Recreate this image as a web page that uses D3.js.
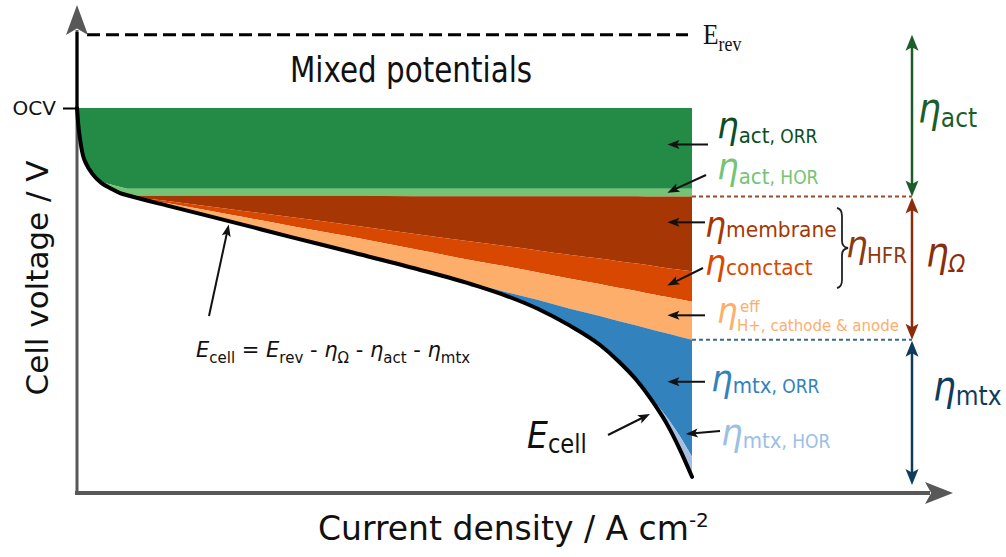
<!DOCTYPE html>
<html>
<head>
<meta charset="utf-8">
<script src="https://cdn.jsdelivr.net/npm/d3@7"></script>
<style>
  html, body { margin: 0; padding: 0; background: #fff; }
  svg { display: block; font-family: "DejaVu Sans", Verdana, sans-serif; }
  text { white-space: pre; }
</style>
</head>
<body>
<svg id="chart" width="1006" height="557"></svg>
<script>
// Polarization curve schematic: losses stacked down from OCV
// current density in arbitrary units (0..1), losses in V

const currentDensity = [0, 0.002, 0.005, 0.01, 0.015, 0.025, 0.04, 0.055, 0.07, 0.085,
    0.15, 0.25, 0.35, 0.45, 0.55, 0.65, 0.7, 0.75, 0.8, 0.85, 0.88, 0.91, 0.94, 0.96, 0.98, 1.0];

const etaActORR = [0, 0.042, 0.081, 0.125, 0.145, 0.171, 0.190, 0.199, 0.205, 0.210,
    0.210, 0.210, 0.210, 0.210, 0.210, 0.210, 0.210, 0.210, 0.210, 0.210, 0.210, 0.210, 0.210, 0.210, 0.210, 0.210];
const etaActHOR = [0, 0, 0, 0, 0, 0, 0.005, 0.010, 0.016, 0.018,
    0.018, 0.018, 0.018, 0.018, 0.019, 0.019, 0.019, 0.019, 0.019, 0.019, 0.019, 0.019, 0.020, 0.020, 0.020, 0.020];
const etaMembrane = [0, 0, 0, 0, 0, 0, 0, 0, 0, 0,
    0.014, 0.035, 0.056, 0.077, 0.098, 0.120, 0.130, 0.141, 0.152, 0.162, 0.169, 0.175, 0.181, 0.186, 0.190, 0.194];
const etaContact = [0, 0, 0, 0, 0, 0, 0, 0, 0, 0,
    0.006, 0.014, 0.023, 0.031, 0.040, 0.049, 0.053, 0.057, 0.062, 0.066, 0.069, 0.071, 0.074, 0.075, 0.077, 0.079];
const etaProton = [0, 0, 0, 0, 0, 0, 0, 0, 0, 0,
    0.007, 0.018, 0.029, 0.040, 0.050, 0.061, 0.067, 0.072, 0.078, 0.083, 0.086, 0.090, 0.093, 0.095, 0.097, 0.099];
const etaMtxORR = [0, 0, 0, 0, 0, 0, 0, 0, 0, 0, 0, 0, 0, 0, 0,
    0.003, 0.010, 0.023, 0.043, 0.075, 0.104, 0.142, 0.186, 0.219, 0.258, 0.304];
const etaMtxHOR = [0, 0, 0, 0, 0, 0, 0, 0, 0, 0, 0, 0, 0, 0, 0, 0, 0, 0, 0, 0, 0, 0,
    0.008, 0.018, 0.034, 0.052];

const OCV = 1.0;
const E_REV = 1.19;

const lossKeys = ["actORR", "actHOR", "membrane", "contact", "proton", "mtxORR", "mtxHOR"];
const lossColors = {
    actORR: "#238b45", actHOR: "#74c476",
    membrane: "#a63603", contact: "#d94801", proton: "#fdae6b",
    mtxORR: "#3182bd", mtxHOR: "#a6bfe0"
};

const svg = d3.select("#chart");

// scales
const x = d3.scaleLinear().domain([0, 1]).range([77, 692]);
const y = d3.scaleLinear().domain([0, 1]).range([493, 108]);

// stack the losses
const rows = currentDensity.map((c, k) => ({
    i: c,
    actORR: etaActORR[k], actHOR: etaActHOR[k],
    membrane: etaMembrane[k], contact: etaContact[k], proton: etaProton[k],
    mtxORR: etaMtxORR[k], mtxHOR: etaMtxHOR[k]
}));
const series = d3.stack().keys(lossKeys)(rows);

const area = d3.area()
    .x(d => x(d.data.i))
    .y0(d => y(OCV - d[0]))
    .y1(d => y(OCV - d[1]))
    .curve(d3.curveMonotoneX);

svg.append("g")
    .selectAll("path")
    .data(series)
    .join("path")
    .attr("fill", d => lossColors[d.key])
    .attr("d", area);

// E_rev dashed line
svg.append("line")
    .attr("x1", x(0) + 10).attr("x2", x(1) - 4)
    .attr("y1", y(E_REV)).attr("y2", y(E_REV))
    .attr("stroke", "#000").attr("stroke-width", 3)
    .attr("stroke-dasharray", "13 6");

// arrow helper
function arrowHead(g, x1, y1, x2, y2, color, len, wid) {
    const a = Math.atan2(y2 - y1, x2 - x1);
    const c = Math.cos(a), s = Math.sin(a);
    const bx = x2 - len * c, by = y2 - len * s;
    const nx = x2 - 0.78 * len * c, ny = y2 - 0.78 * len * s;
    const p = d3.path();
    p.moveTo(x2, y2);
    p.lineTo(bx - wid / 2 * s, by + wid / 2 * c);
    p.lineTo(nx, ny);
    p.lineTo(bx + wid / 2 * s, by - wid / 2 * c);
    p.closePath();
    g.append("path").attr("d", p.toString()).attr("fill", color);
}

function arrow(g, x1, y1, x2, y2, color, sw, len, wid, both) {
    const a = Math.atan2(y2 - y1, x2 - x1);
    const c = Math.cos(a), s = Math.sin(a);
    const sx = both ? x1 + len * 0.7 * c : x1, sy = both ? y1 + len * 0.7 * s : y1;
    g.append("line")
        .attr("x1", sx).attr("y1", sy)
        .attr("x2", x2 - len * 0.7 * c).attr("y2", y2 - len * 0.7 * s)
        .attr("stroke", color).attr("stroke-width", sw);
    arrowHead(g, x1, y1, x2, y2, color, len, wid);
    if (both) arrowHead(g, x2, y2, x1, y1, color, len, wid);
}

// axes
const axisColor = "#585858";
const axes = svg.append("g");
axes.append("line")
    .attr("x1", x(0)).attr("x2", x(0))
    .attr("y1", y(0) + 2).attr("y2", 30)
    .attr("stroke", axisColor).attr("stroke-width", 3);
axes.append("line")
    .attr("x1", x(0)).attr("x2", x(0))
    .attr("y1", 32).attr("y2", y(OCV))
    .attr("stroke", "#000").attr("stroke-width", 3);
arrowHead(axes, x(0), 40, x(0), 5, axisColor, 30, 22);
axes.append("line")
    .attr("x1", x(0) - 2).attr("x2", 930)
    .attr("y1", y(0)).attr("y2", y(0))
    .attr("stroke", axisColor).attr("stroke-width", 4);
arrowHead(axes, 900, y(0), 953, y(0), axisColor, 28, 22);

svg.append("g")
    .attr("transform", `translate(${x(0)},0)`)
    .call(d3.axisLeft(y).tickValues([OCV]).tickFormat(() => "OCV").tickSize(14).tickPadding(7))
    .call(g => g.select(".domain").remove())
    .call(g => g.selectAll("line").attr("stroke", "#000").attr("stroke-width", 2))
    .call(g => g.selectAll("text")
        .attr("font-size", 20)
        .attr("font-family", "DejaVu Sans")
        .attr("fill", "#111"));

// E_cell curve
const total = series[series.length - 1];
const line = d3.line()
    .x(d => x(d.data.i))
    .y(d => y(OCV - d[1]))
    .curve(d3.curveMonotoneX);
svg.append("path")
    .datum(total)
    .attr("fill", "none")
    .attr("stroke", "#000")
    .attr("stroke-width", 4)
    .attr("stroke-linecap", "round")
    .attr("d", line);

// text helper
function label(px, py, parts, sx, opts) {
    const t = svg.append("text")
        .attr("transform", `translate(${px},${py}) scale(${sx || 1},1)`)
        .attr("font-family", (opts && opts.family) || null)
        .attr("text-anchor", (opts && opts.anchor) || "start");
    parts.forEach(p => {
        t.append("tspan")
            .attr("font-size", p.size)
            .attr("font-style", p.italic ? "italic" : null)
            .attr("fill", p.color || "#111")
            .attr("dy", p.dy || 0)
            .text(p.text);
    });
    return t;
}

// top labels
label(290, 82, [{ text: "Mixed potentials", size: 35 }], 0.84);
label(703, 44, [
    { text: "E", size: 30 },
    { text: "rev", size: 21, dy: 7 }
], 0.85, { family: "Liberation Serif" });

// right side: dotted separators and double arrows
const last = rows.length - 1;
const yActBottom = y(OCV - series[1][last][1]);
const yOhmBottom = y(OCV - series[4][last][1]);
const arrowX = 912;

svg.append("line")
    .attr("x1", x(1)).attr("x2", arrowX)
    .attr("y1", yActBottom).attr("y2", yActBottom)
    .attr("stroke", "#9a4a2a").attr("stroke-width", 2).attr("stroke-dasharray", "4 3");
svg.append("line")
    .attr("x1", x(1)).attr("x2", arrowX)
    .attr("y1", yOhmBottom).attr("y2", yOhmBottom)
    .attr("stroke", "#3a6a8f").attr("stroke-width", 2).attr("stroke-dasharray", "4 3");

const rightArrows = svg.append("g");
arrow(rightArrows, arrowX, y(E_REV), arrowX, yActBottom, "#1b5e2b", 2.5, 16, 13, true);
arrow(rightArrows, arrowX, yActBottom + 1, arrowX, yOhmBottom, "#8b2d0a", 2.5, 16, 13, true);
arrow(rightArrows, arrowX, yOhmBottom + 1, arrowX, y(0) - 8, "#0f3c5c", 2.5, 16, 13, true);

label(918, 122, [
    { text: "η", size: 40, italic: true, color: "#1b5e2b" },
    { text: "act", size: 26, dy: 5, color: "#1b5e2b" }
], 0.9);
label(926, 266, [
    { text: "η", size: 40, italic: true, color: "#8b2d0a" },
    { text: "Ω", size: 24, italic: true, dy: 6, color: "#8b2d0a" }
], 0.9);
label(933, 400, [
    { text: "η", size: 40, italic: true, color: "#0f3c5c" },
    { text: "mtx", size: 26, dy: 5, color: "#0f3c5c" }
], 0.9);

// loss labels near the right edge
label(717, 138, [
    { text: "η", size: 38, italic: true, color: "#0b4d25" },
    { text: "act", size: 22, dy: 5, color: "#0b4d25" },
    { text: ", ORR", size: 19, color: "#0b4d25" }
], 0.9);
label(717, 179, [
    { text: "η", size: 38, italic: true, color: "#74c476" },
    { text: "act", size: 22, dy: 5, color: "#74c476" },
    { text: ", HOR", size: 19, color: "#74c476" }
], 0.9);
label(705, 237, [
    { text: "η", size: 36, italic: true, color: "#a63603" },
    { text: "membrane", size: 22, color: "#a63603" }
], 0.92);
label(705, 275, [
    { text: "η", size: 36, italic: true, color: "#d94801" },
    { text: "conctact", size: 22, color: "#d94801" }
], 0.92);
label(717, 323, [{ text: "η", size: 36, italic: true, color: "#fdae6b" }], 0.9);
label(740, 312, [{ text: "eff", size: 15, color: "#fdae6b" }], 1);
label(737, 331, [{ text: "H+, cathode & anode", size: 15, color: "#fdae6b" }], 1);
label(846, 257, [{ text: "η", size: 38, italic: true, color: "#8c3a10" }], 0.9);
label(867, 263, [{ text: "HFR", size: 22, color: "#8c3a10" }], 0.9);
label(711, 391, [
    { text: "η", size: 38, italic: true, color: "#3182bd" },
    { text: "mtx", size: 22, dy: 2, color: "#3182bd" },
    { text: ", ORR", size: 19, color: "#3182bd" }
], 0.9);
label(721, 445, [
    { text: "η", size: 38, italic: true, color: "#9ac0e4" },
    { text: "mtx", size: 22, dy: 3, color: "#9ac0e4" },
    { text: ", HOR", size: 19, color: "#9ac0e4" }
], 0.9);

// brace grouping membrane + contact
const brace = d3.path();
brace.moveTo(837, 208);
brace.quadraticCurveTo(842, 209, 842, 216);
brace.lineTo(842, 241);
brace.quadraticCurveTo(842, 247, 848, 248);
brace.quadraticCurveTo(842, 249, 842, 255);
brace.lineTo(842, 280);
brace.quadraticCurveTo(842, 287, 837, 288);
svg.append("path").attr("d", brace.toString())
    .attr("fill", "none").attr("stroke", "#222").attr("stroke-width", 1.8);

// small black arrows pointing into each layer
const tipIdx = currentDensity.indexOf(0.96);
const tipX = x(currentDensity[tipIdx]);
function layerMid(k) {
    const d = series[k][tipIdx];
    return y(OCV - (d[0] + d[1]) / 2);
}
const small = svg.append("g");
arrow(small, 708, layerMid(0) - 4, tipX, layerMid(0) - 4, "#111", 2, 12, 9);
arrow(small, 706, 175, tipX, layerMid(1), "#111", 2, 12, 9);
arrow(small, 705, layerMid(2) - 10, tipX, layerMid(2) - 10, "#111", 2, 12, 9);
arrow(small, 703, 268, tipX, layerMid(3) + 3, "#111", 2, 12, 9);
arrow(small, 705, layerMid(4), tipX, layerMid(4), "#111", 2, 12, 9);
arrow(small, 705, layerMid(5) + 6, tipX, layerMid(5) + 6, "#111", 2, 12, 9);
arrow(small, 720, 431, x(0.99), y(OCV - series[6][currentDensity.length - 2][0]) - 2, "#111", 2, 12, 9);

// E_cell label and arrow
label(527, 448, [
    { text: "E", size: 38, italic: true, color: "#111" },
    { text: "cell", size: 26, dy: 5, color: "#111" }
], 0.87);
arrow(small, 608, 435, 650, 414, "#111", 2, 12, 9);

// equation and arrow to the curve
const eqIdx = currentDensity.indexOf(0.25);
arrow(small, 209, 316, x(currentDensity[eqIdx]) - 2, y(OCV - total[eqIdx][1]) + 3, "#111", 2, 12, 9);
label(196, 357, [
    { text: "E", size: 21, italic: true },
    { text: "cell", size: 15, dy: 6 },
    { text: " = ", size: 21, dy: -6 },
    { text: "E", size: 21, italic: true },
    { text: "rev", size: 15, dy: 6 },
    { text: " - ", size: 21, dy: -6 },
    { text: "η", size: 21, italic: true },
    { text: "Ω", size: 15, dy: 6 },
    { text: " - ", size: 21, dy: -6 },
    { text: "η", size: 21, italic: true },
    { text: "act", size: 15, dy: 6 },
    { text: " - ", size: 21, dy: -6 },
    { text: "η", size: 21, italic: true },
    { text: "mtx", size: 15, dy: 6 }
], 1);

// axis titles
svg.append("text")
    .attr("transform", "translate(48,278) rotate(-90)")
    .attr("text-anchor", "middle")
    .attr("font-size", 31)
    .attr("fill", "#111")
    .text("Cell voltage / V");

label(318, 540, [
    { text: "Current density / A cm", size: 33 },
    { text: "-2", size: 20, dy: -13 }
], 1);
</script>
</body>
</html>
